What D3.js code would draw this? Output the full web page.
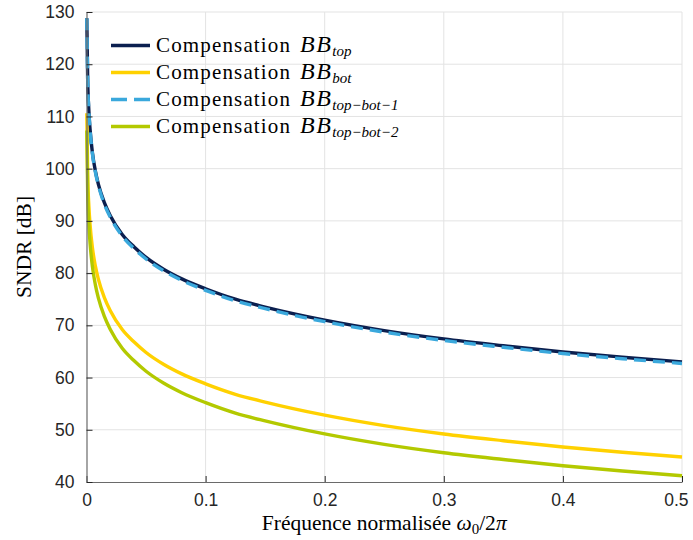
<!DOCTYPE html>
<html><head><meta charset="utf-8">
<script src="https://cdn.jsdelivr.net/npm/d3@7"></script>
<style>body{margin:0;background:#fff}</style>
</head><body>
<svg id="chart" width="693" height="540"></svg>
<script>
// Normalised frequency samples (x)
const freq = [0.00025, 0.001, 0.002, 0.003, 0.005, 0.0075, 0.01, 0.015, 0.02, 0.03, 0.04, 0.05, 0.065, 0.08, 0.1, 0.125, 0.15, 0.2, 0.25, 0.3, 0.35, 0.4, 0.45, 0.5];
// SNDR [dB]
const bbTop = [128.8, 117.0, 111.0, 107.5, 103.0, 99.5, 97.0, 93.5, 91.0, 87.4, 85.0, 83.0, 80.7, 78.9, 77.0, 75.0, 73.5, 71.0, 69.0, 67.4, 66.1, 64.9, 63.9, 63.0];
const bbBot = [110.6, 98.8, 92.8, 89.3, 84.8, 81.3, 78.8, 75.3, 72.8, 69.2, 66.8, 64.8, 62.5, 60.7, 58.8, 56.8, 55.3, 52.8, 50.8, 49.2, 47.9, 46.7, 45.7, 44.8];
const bbTopBot1 = [128.8, 117.0, 110.9, 107.4, 102.8, 99.3, 96.8, 93.2, 90.7, 87.1, 84.7, 82.7, 80.4, 78.6, 76.7, 74.7, 73.2, 70.7, 68.7, 67.1, 65.8, 64.6, 63.6, 62.7];
const bbTopBot2 = [107.3, 95.2, 89.2, 85.7, 81.2, 77.7, 75.2, 71.7, 69.2, 65.6, 63.2, 61.2, 58.9, 57.1, 55.2, 53.2, 51.7, 49.2, 47.2, 45.6, 44.3, 43.1, 42.1, 41.2];
const xTicks = [0, 0.1, 0.2, 0.3, 0.4, 0.5];
const yTicks = [40, 50, 60, 70, 80, 90, 100, 110, 120, 130];
const seriesNames = ["top", "bot", "top\u2212bot\u22121", "top\u2212bot\u22122"];
const seriesColors = ["#0b1f4f", "#ffd100", "#3aa8dc", "#b3c900"];

const series = [bbTop, bbBot, bbTopBot1, bbTopBot2].map((vals, i) => ({
  name: seriesNames[i], color: seriesColors[i], dashed: i === 2,
  pts: freq.map((f, j) => [f, vals[j]])
}));

const svg = d3.select("#chart");
const L = 86.5, R = 682, T = 12, B = 482;
const x = d3.scaleLinear().domain([0, 0.5]).range([L, R]);
const y = d3.scaleLinear().domain([40, 130]).range([B, T]);

// grid
const g = svg.append("g");
g.selectAll("line.vg").data(xTicks.slice(1)).join("line")
  .attr("x1", d => x(d)).attr("x2", d => x(d)).attr("y1", T).attr("y2", B)
  .attr("stroke", "#e3e3e3").attr("stroke-width", 1);
g.selectAll("line.hg").data(yTicks.slice(1)).join("line")
  .attr("y1", d => y(d)).attr("y2", d => y(d)).attr("x1", L).attr("x2", R)
  .attr("stroke", "#e3e3e3").attr("stroke-width", 1);

// curves
const line = d3.line().x(d => x(d[0])).y(d => y(d[1])).curve(d3.curveMonotoneX);
svg.append("g").selectAll("path").data(series).join("path")
  .attr("d", d => line(d.pts))
  .attr("fill", "none")
  .attr("stroke", d => d.color)
  .attr("stroke-width", 3.4)
  .attr("stroke-dasharray", d => d.dashed ? "12,7" : null);

// axes
const xAxis = d3.axisBottom(x).tickValues(xTicks).tickFormat(d3.format("")).tickSizeInner(-6).tickSizeOuter(0).tickPadding(12);
const yAxis = d3.axisLeft(y).tickValues(yTicks).tickSizeInner(-6).tickSizeOuter(0).tickPadding(12);
const gx = svg.append("g").attr("transform", `translate(0,${B})`).call(xAxis);
const gy = svg.append("g").attr("transform", `translate(${L},0)`).call(yAxis);
[gx, gy].forEach(a => {
  a.select(".domain").attr("stroke", "#6a6a6a").attr("stroke-width", 1.2);
  a.selectAll(".tick line").attr("stroke", "#262626").attr("stroke-width", 1);
  a.selectAll(".tick text").attr("fill", "#262626")
    .style("font-family", "'Liberation Sans', Arial, sans-serif").style("font-size", "17.5px");
});
// keep the last x tick label inside the canvas
gx.selectAll(".tick text").filter(d => d === 0.5).attr("text-anchor", "end").attr("x", 6);

// legend
const leg = svg.append("g").attr("font-family", "'Liberation Serif', 'Times New Roman', serif");
series.forEach((s, i) => {
  const cy = 45.5 + i * 27;
  leg.append("line").attr("x1", 111).attr("x2", 150).attr("y1", cy).attr("y2", cy)
    .attr("stroke", s.color).attr("stroke-width", 3.4)
    .attr("stroke-dasharray", s.dashed ? "16,7" : null);
  const t = leg.append("text").attr("x", 156).attr("y", cy + 6).attr("fill", "#000").style("font-size", "21px");
  t.append("tspan").text("Compensation").attr("textLength", 134).attr("lengthAdjust", "spacing");
  t.append("tspan").attr("x", 300).attr("font-style", "italic").style("font-size", "24px")
    .style("letter-spacing", "1.5px").text("BB");
  t.append("tspan").attr("dy", 4).attr("font-style", "italic").style("font-size", "15px").text(s.name);
});

// axis labels
const xl = svg.append("text").attr("x", (L + R) / 2).attr("y", 530).attr("text-anchor", "middle")
  .attr("fill", "#000").style("font-family", "'Liberation Serif', 'Times New Roman', serif").style("font-size", "21.5px");
xl.append("tspan").text("Fréquence normalisée ");
xl.append("tspan").attr("font-style", "italic").text("ω");
xl.append("tspan").attr("dy", 4).style("font-size", "15px").text("0");
xl.append("tspan").attr("dy", -4).text("/2");
xl.append("tspan").attr("font-style", "italic").text("π");

svg.append("text").attr("transform", `translate(31,${(T + B) / 2}) rotate(-90)`)
  .attr("text-anchor", "middle").attr("fill", "#000")
  .style("font-family", "'Liberation Serif', 'Times New Roman', serif").style("font-size", "21.5px")
  .text("SNDR [dB]");
</script>
</body></html>
